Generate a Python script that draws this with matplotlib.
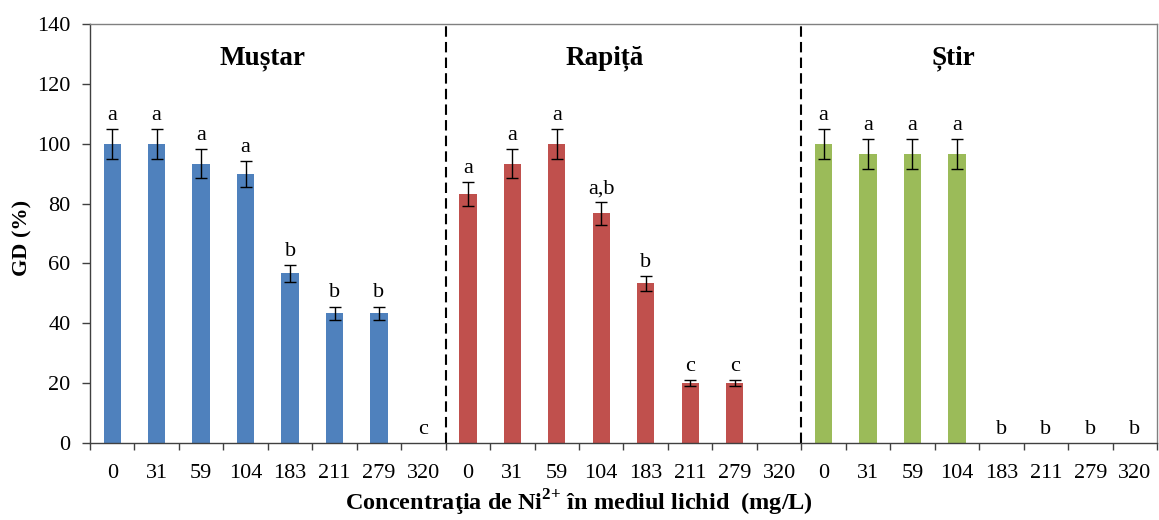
import matplotlib
matplotlib.use('Agg')
import matplotlib.pyplot as plt
import numpy as np

plt.rcParams['font.family'] = ['Liberation Serif', 'DejaVu Serif']
plt.rcParams['mathtext.fontset'] = 'custom'
plt.rcParams['mathtext.rm'] = 'Liberation Serif:bold'
plt.rcParams['mathtext.bf'] = 'Liberation Serif:bold'

concentrations = ['0', '31', '59', '104', '183', '211', '279', '320']
groups = ['Muștar', 'Rapiță', 'Știr']
mustar = [100, 100, 93.3, 90, 56.7, 43.3, 43.3, 0]
mustar_err = [5, 5, 4.8, 4.3, 2.8, 2.3, 2.3, 0]
rapita = [83.3, 93.3, 100, 76.7, 53.3, 20, 20, 0]
rapita_err = [4, 4.8, 5, 3.8, 2.5, 1, 1, 0]
stir = [100, 96.7, 96.7, 96.7, 0, 0, 0, 0]
stir_err = [5, 5, 5, 5, 0, 0, 0, 0]
mustar_letters = ['a', 'a', 'a', 'a', 'b', 'b', 'b', 'c']
rapita_letters = ['a', 'a', 'a', 'a,b', 'b', 'c', 'c', '']
stir_letters = ['a', 'a', 'a', 'a', 'b', 'b', 'b', 'b']
colors = ['#4F81BD', '#C0504D', '#9BBB59']

values = [mustar, rapita, stir]
errors = [mustar_err, rapita_err, stir_err]
letters = [mustar_letters, rapita_letters, stir_letters]

fig = plt.figure(figsize=(11.59, 5.2), dpi=100)
ax = fig.add_axes([90 / 1159, 77 / 520, 1067 / 1159, 419 / 520])

n = len(concentrations)
for gi in range(3):
    x = gi * n + np.arange(n)
    v = np.array(values[gi], dtype=float)
    e = np.array(errors[gi], dtype=float)
    ax.bar(x, v, width=0.39, color=colors[gi], edgecolor='none', zorder=2)
    m = v > 0
    ax.errorbar(x[m], v[m], yerr=e[m], fmt='none', ecolor='black',
                elinewidth=1.0, capsize=4, capthick=1.0, zorder=3)
    for xi, vi, ei, lab in zip(x, v, e, letters[gi]):
        if lab:
            ax.annotate(lab, (xi, vi + ei), xytext=(0, 6.5), textcoords='offset points',
                        ha='center', va='baseline', fontsize=16)

title_x = [3.37, 11.07, 18.93]
for gx, g in zip(title_x, groups):
    ax.text(gx, 126.5, g, ha='center', va='baseline', fontsize=19.5, fontweight='bold')

for bx in [n - 0.5, 2 * n - 0.5]:
    ax.axvline(bx, color='black', lw=1.5, linestyle=(0, (5, 2.5)), zorder=1)

ax.set_xlim(-0.5, 3 * n - 0.5)
ax.set_ylim(0, 140)
ax.set_yticks(np.arange(0, 141, 20))
ax.set_xticks(np.arange(3 * n))
ax.set_xticklabels(concentrations * 3)
ax.set_xticks(np.arange(-0.5, 3 * n, 1.0), minor=True)
ax.tick_params(axis='x', which='major', length=0, pad=15, labelsize=16)
ax.tick_params(axis='x', which='minor', length=5, width=1, direction='out', color='#404040')
ax.tick_params(axis='y', which='major', length=6, width=1, direction='out', pad=8,
               labelsize=16, color='#404040')

for s in ['left', 'bottom']:
    ax.spines[s].set_color('#404040')
    ax.spines[s].set_linewidth(1.0)
for s in ['top', 'right']:
    ax.spines[s].set_color('#808080')
    ax.spines[s].set_linewidth(1.0)

fig.text(22 / 1159, 1 - 238 / 520, 'GD (%)', rotation=90, ha='center', va='center',
         fontsize=16, fontweight='bold')
fig.text(579 / 1159, 1 - 503 / 520, r'Concentraţia de Ni$^{2{+}}$ în mediul lichid  (mg/L)',
         ha='center', va='center', fontsize=17.5, fontweight='bold')

fig.savefig('out.png', dpi=100)
